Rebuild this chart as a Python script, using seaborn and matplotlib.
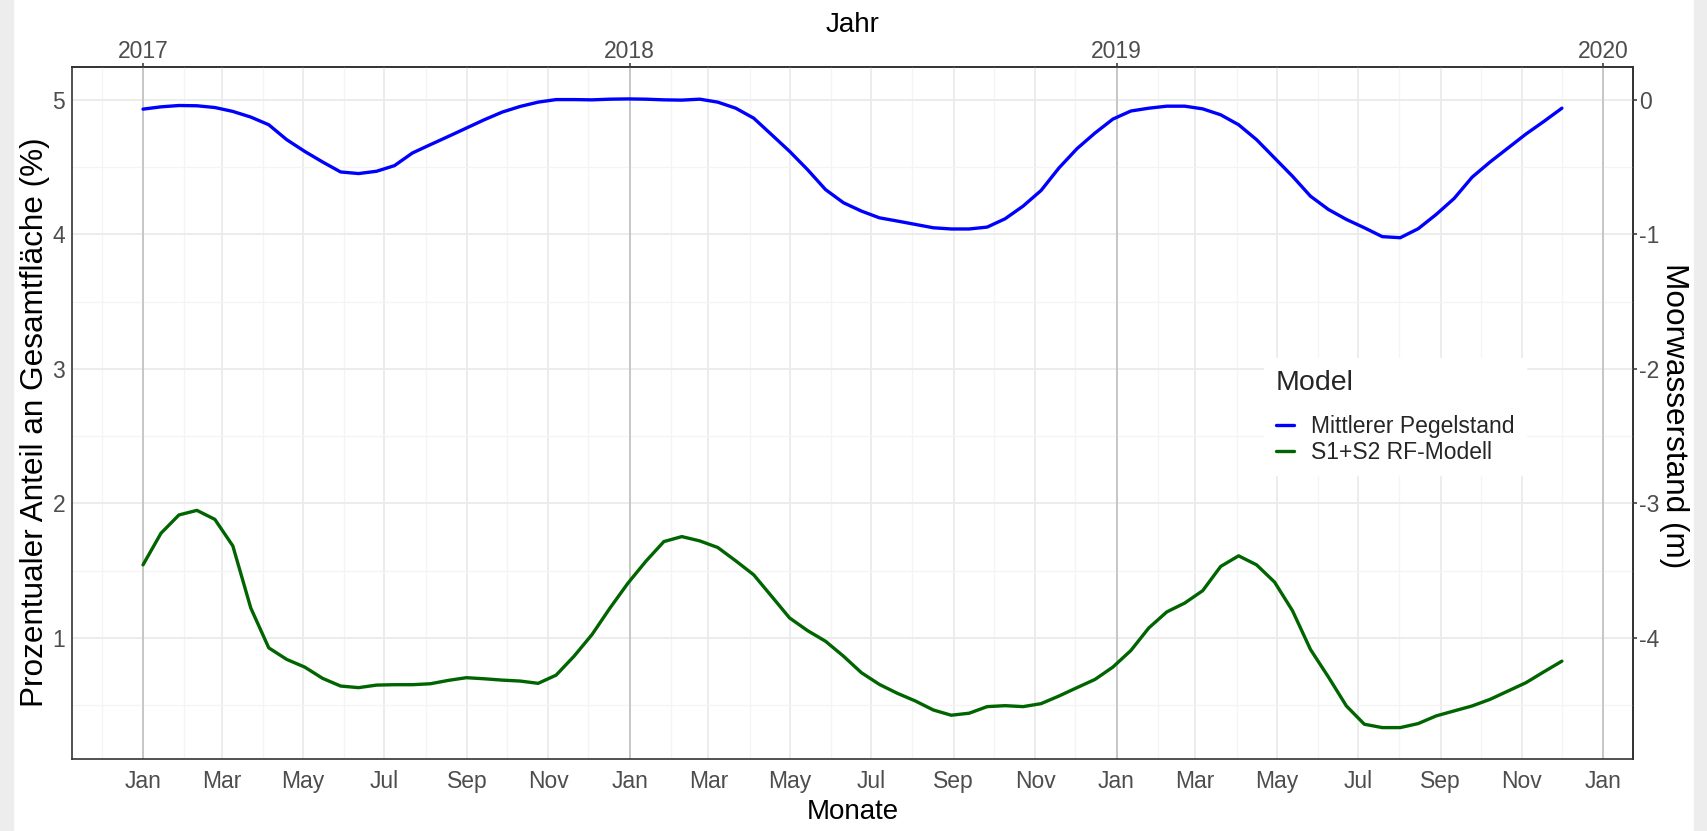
"""
Moorwasserstand vs. Flächenanteil (S1+S2 RF-Modell), 2017-2019
"""

import pandas as pd
import matplotlib
matplotlib.use('Agg')
import matplotlib.pyplot as plt
import matplotlib.dates as mdates
import matplotlib.ticker as mticker
from matplotlib.patches import Rectangle
from matplotlib.lines import Line2D
import seaborn as sns

sns.set_theme(style='white')
plt.rcParams['font.family'] = ['Liberation Sans', 'DejaVu Sans']
plt.rcParams['axes.unicode_minus'] = False

# ──────────────────────────────────────────────────────────────────────────────
# DATEN
# ──────────────────────────────────────────────────────────────────────────────
datum_start = '2017-01-01'
datum_ende  = '2019-12-01'
n_termine   = 80

# Mittlerer Pegelstand (m)
pegel = [
    -0.069, -0.052, -0.042, -0.044, -0.057, -0.086, -0.128, -0.185, -0.296, -0.383,
    -0.462, -0.536, -0.548, -0.531, -0.489, -0.395, -0.333, -0.272, -0.210, -0.148,
    -0.091, -0.049, -0.017, 0.002, 0.002, 0.000, 0.005, 0.007, 0.005, 0.000,
    -0.002, 0.005, -0.017, -0.062, -0.136, -0.259, -0.383, -0.519, -0.667, -0.765,
    -0.827, -0.877, -0.901, -0.926, -0.951, -0.960, -0.960, -0.946, -0.884, -0.790,
    -0.674, -0.506, -0.363, -0.247, -0.143, -0.083, -0.062, -0.047, -0.047, -0.067,
    -0.111, -0.185, -0.296, -0.432, -0.568, -0.716, -0.815, -0.889, -0.951, -1.017,
    -1.025, -0.958, -0.852, -0.733, -0.575, -0.462, -0.358, -0.254, -0.160, -0.062,
]

# S1+S2 RF-Modell: prozentualer Anteil an Gesamtfläche (%)
anteil = [
    1.543, 1.778, 1.914, 1.948, 1.881, 1.684, 1.222, 0.926, 0.840, 0.783,
    0.699, 0.642, 0.630, 0.649, 0.652, 0.652, 0.659, 0.684, 0.704, 0.696,
    0.686, 0.679, 0.662, 0.723, 0.864, 1.025, 1.222, 1.407, 1.570, 1.716,
    1.753, 1.721, 1.672, 1.573, 1.469, 1.309, 1.148, 1.054, 0.975, 0.864,
    0.741, 0.654, 0.588, 0.531, 0.464, 0.425, 0.440, 0.489, 0.496, 0.489,
    0.511, 0.568, 0.630, 0.691, 0.783, 0.906, 1.074, 1.193, 1.259, 1.351,
    1.531, 1.610, 1.543, 1.415, 1.202, 0.914, 0.709, 0.494, 0.358, 0.333,
    0.333, 0.363, 0.420, 0.457, 0.494, 0.543, 0.605, 0.667, 0.748, 0.827,
]

jahre = [2017, 2018, 2019, 2020]

modelle = ['Mittlerer Pegelstand', 'S1+S2 RF-Modell']
farben  = {'Mittlerer Pegelstand': '#0000ff', 'S1+S2 RF-Modell': '#006400'}

# Sekundaerachse: Pegel (m) = Anteil-Achse - 5
OFFSET = 5

# ──────────────────────────────────────────────────────────────────────────────
# DATAFRAME
# ──────────────────────────────────────────────────────────────────────────────
datum = pd.date_range(datum_start, datum_ende, periods=n_termine)

df = pd.concat([
    pd.DataFrame({'Datum': datum, 'Wert': [p + OFFSET for p in pegel],
                  'Model': modelle[0]}),
    pd.DataFrame({'Datum': datum, 'Wert': anteil, 'Model': modelle[1]}),
], ignore_index=True)

# ──────────────────────────────────────────────────────────────────────────────
# GRAFIK
# ──────────────────────────────────────────────────────────────────────────────
W, H = 1708, 831
fig = plt.figure(figsize=(W / 100, H / 100), dpi=100)
fig.patch.set_facecolor('white')

# graue Raender (Screenshot)
fig.patches.append(Rectangle((0, 0), 13 / W, 1, transform=fig.transFigure,
                             color='#ededed', zorder=-1))
fig.patches.append(Rectangle((1 - 14 / W, 0), 14 / W, 1,
                             transform=fig.transFigure, color='#ededed', zorder=-1))

ax = fig.add_axes([0.0422, 0.0866, 0.9138, 0.8322])
ax.set_facecolor('white')
ax.set_axisbelow(True)

# Jahreslinien
for j in jahre:
    ax.axvline(pd.Timestamp(f'{j}-01-01'), color='#bdbdbd', lw=1.1, zorder=1)

sns.lineplot(data=df, x='Datum', y='Wert', hue='Model', hue_order=modelle,
             palette=farben, linewidth=2.4, legend=False, ax=ax, zorder=3)

# Achsengrenzen (5 % Rand wie ggplot)
x0, x1 = mdates.date2num(datum.min()), mdates.date2num(datum.max())
dx = (x1 - x0) * 0.05
ax.set_xlim(x0 - dx, x1 + dx)
y0, y1 = df['Wert'].min(), df['Wert'].max()
dy = (y1 - y0) * 0.05
ax.set_ylim(y0 - dy, y1 + dy)

# Achsenteilung
ax.xaxis.set_major_locator(mdates.MonthLocator(bymonth=[1, 3, 5, 7, 9, 11]))
ax.xaxis.set_minor_locator(mdates.MonthLocator(bymonth=[2, 4, 6, 8, 10, 12]))
ax.xaxis.set_major_formatter(mdates.DateFormatter('%b'))
ax.yaxis.set_major_locator(mticker.MultipleLocator(1))
ax.yaxis.set_minor_locator(mticker.MultipleLocator(0.5))
ax.yaxis.set_major_formatter(mticker.FormatStrFormatter('%d'))

ax.grid(which='major', color='#ebebeb', lw=1.3)
ax.grid(which='minor', color='#f4f4f4', lw=0.9)

for s in ax.spines.values():
    s.set_color('#333333')
    s.set_linewidth(1.2)

tick_kw = dict(length=3.2, width=1.1, color='#333333', labelcolor='#4d4d4d',
               labelsize=16.5, direction='out')
ax.tick_params(axis='x', which='major', pad=4.8, **tick_kw)
ax.tick_params(axis='y', which='major', pad=1.8, **tick_kw)
ax.tick_params(axis='both', which='minor', length=0)

# obere Achse: Jahre
secx = ax.secondary_xaxis('top')
secx.set_xticks([mdates.date2num(pd.Timestamp(f'{j}-01-01')) for j in jahre])
secx.set_xticklabels([str(j) for j in jahre])
secx.tick_params(axis='x', which='major', pad=0, **tick_kw)
secx.tick_params(axis='x', which='minor', length=0)
secx.spines['top'].set_color('#333333')
secx.set_xlabel('Jahr', fontsize=20, color='black', labelpad=6)

# rechte Achse: Moorwasserstand
secy = ax.secondary_yaxis('right', functions=(lambda v: v - OFFSET,
                                              lambda v: v + OFFSET))
secy.set_yticks([0, -1, -2, -3, -4])
secy.yaxis.set_major_formatter(mticker.FormatStrFormatter('%d'))
secy.tick_params(axis='y', which='major', pad=1.2, **tick_kw)
secy.tick_params(axis='y', which='minor', length=0)
secy.set_ylabel('Moorwasserstand (m)', fontsize=22.7, color='black',
                rotation=270, rotation_mode='anchor', ha='center',
                va='baseline')
secy.yaxis.set_label_coords(1666 / W, 0.5, transform=fig.transFigure)

ax.set_xlabel('Monate', fontsize=20, color='black', labelpad=4)
ax.set_ylabel('Prozentualer Anteil an Gesamtfläche (%)', fontsize=22.7,
              color='black', rotation=90, rotation_mode='anchor',
              ha='center', va='baseline')
ax.yaxis.set_label_coords(43 / W, 0.492, transform=fig.transFigure)

# Legende
handles = [Line2D([0], [0], color=farben[m], lw=2.4) for m in modelle]
leg = ax.legend(handles, modelle, title='Model', loc='upper left',
                bbox_to_anchor=(1253 / W, 1 - 347 / H),
                bbox_transform=fig.transFigure, fontsize=16.5,
                title_fontsize=20.5, frameon=True, fancybox=False,
                handlelength=0.8, handletextpad=0.75, labelspacing=0.1,
                borderpad=0.5, alignment='left')
leg.get_frame().set_facecolor('white')
leg.get_frame().set_edgecolor('white')
leg.get_frame().set_alpha(1)
# mehr Abstand zwischen Titel und Eintraegen
leg._legend_box.sep = 14

plt.savefig('out.png', dpi=100)
plt.close()
